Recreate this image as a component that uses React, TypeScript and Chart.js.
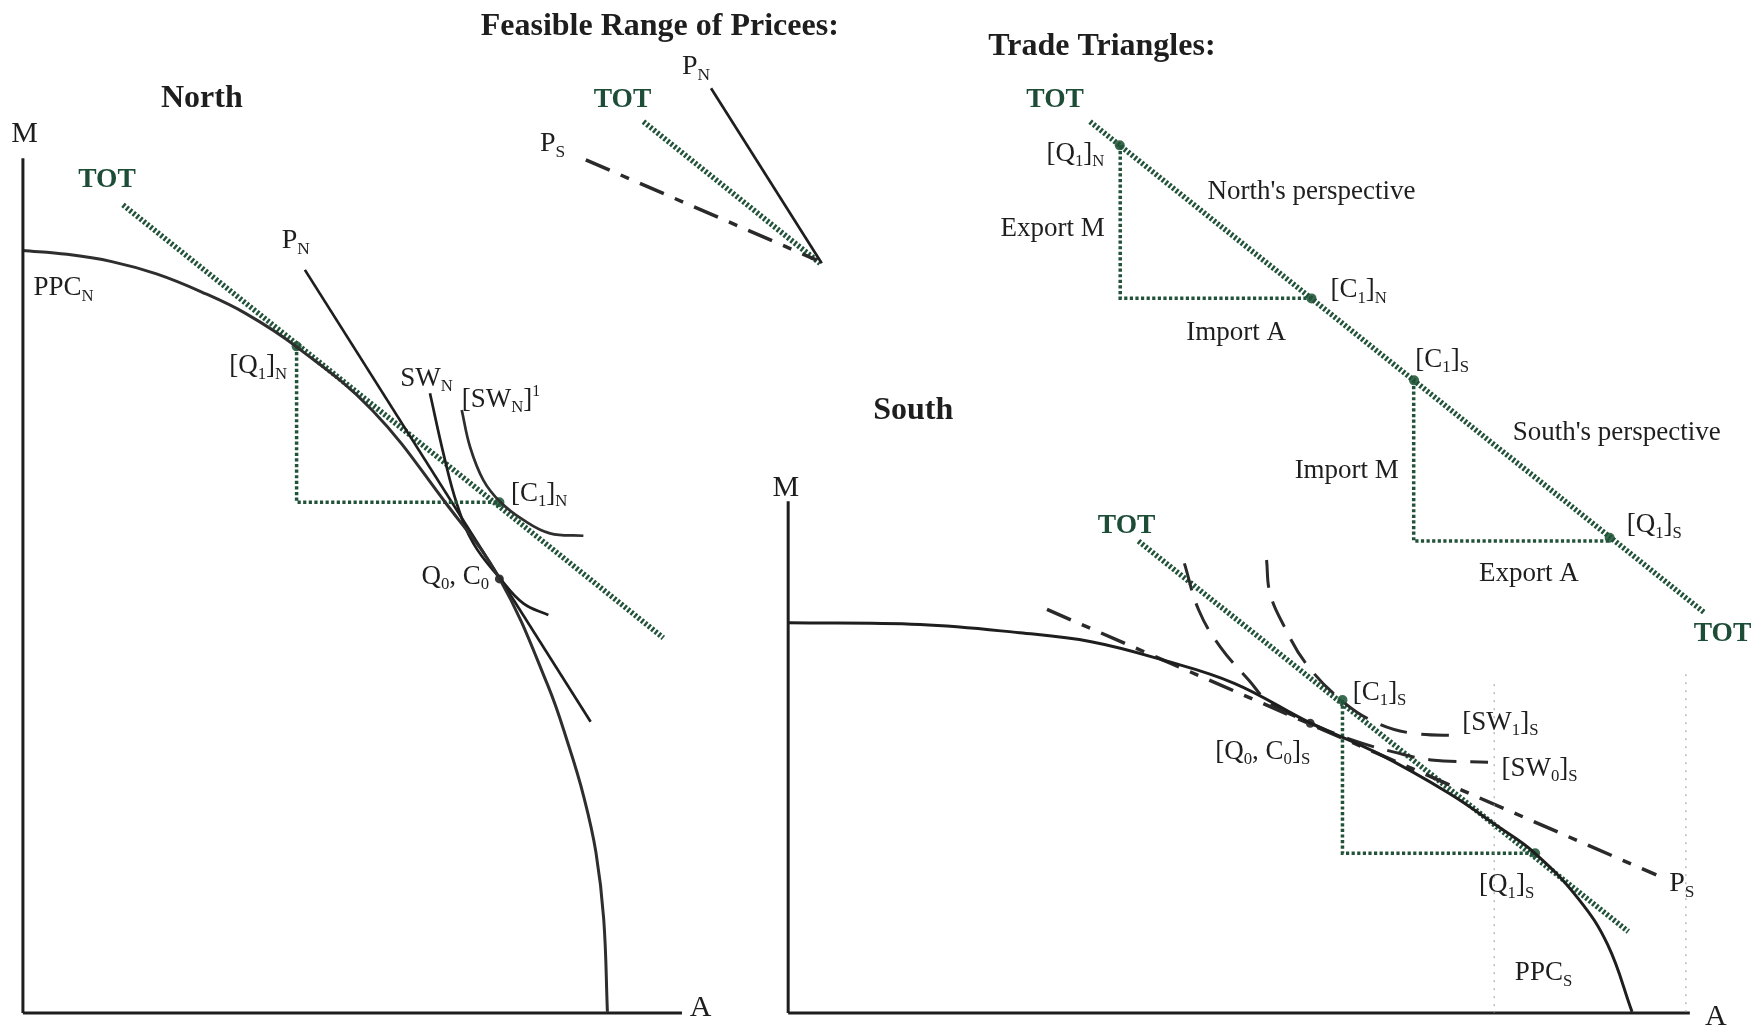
import React, { useEffect, useRef } from "react";
import { Chart, registerables } from "chart.js";
Chart.register(...registerables);

// ---- Data (figure coordinates: x 0..1568 to the right, y 0..919.5 downwards) ----
// North panel
const northAxisM = [[20.5, 141.5], [20.5, 906]];
const northAxisA = [[20.5, 906], [610, 906]];
const ppcNorth = [[20, 224], [60, 227.5], [100, 234], [140, 245], [180, 261], [220, 280.5], [265, 310], [333, 367], [398, 449], [447, 518], [490, 613], [509, 668], [522, 712], [533, 762], [540, 822], [543.3, 905]];
const priceNorth = [[272.7, 241.4], [528.3, 645.5]];
const totNorth = [[110, 183.3], [593.3, 570.5]];
const triNorth = [[265.3, 309.8], [265.3, 449.2], [446.7, 449.2]];
const swNorth = [[384.6, 351.8], [396.6, 405.5], [408.5, 450.2], [423.4, 486], [447.3, 517.3], [468.1, 539.7], [490.5, 550.1]];
const swNorth1 = [[413, 366.7], [420.4, 399.6], [432.3, 429.4], [447.3, 448.8], [468.1, 465.1], [492, 477.1], [521.8, 479.2]];
const greenPtsNorth = [[265.3, 309.8], [446.7, 449.2]];
const autarkyPtNorth = [[446.7, 517.8]];

// Feasible range of prices
const rangePN = [[636, 79], [735, 235.5]];
const rangeTOT = [[575.5, 108.8], [733.5, 235.5]];
const rangePS = [[524, 143], [730.5, 232.6]];

// Trade triangles
const triTOT = [[975, 108.8], [1524.8, 548.2]];
const triNorthPersp = [[1002, 130], [1002, 266.7], [1173, 266.7]];
const triSouthPersp = [[1264.5, 340.2], [1264.5, 484], [1439.8, 484]];
const triPts = [[1001.6, 130], [1173.1, 266.9], [1264.8, 340.2], [1439.8, 481]];

// South panel
const southAxisM = [[705, 448.4], [705, 906]];
const southAxisA = [[705, 906], [1511.5, 906]];
const ppcSouth = [[705, 557], [823, 558.6], [912, 566], [976, 574], [1040, 590.3], [1104, 611.2], [1172.8, 647], [1232, 673.7], [1296, 709.5], [1338, 738], [1373, 763.2], [1411.5, 803.5], [1438, 845], [1459.8, 905]];
const totSouth = [[1018.3, 484.1], [1456.5, 833.2]];
const triSouth = [[1200.8, 626.1], [1200.8, 763.2], [1373.1, 763.2]];
const priceSouth = [[936.5, 545.1], [1481.5, 782.6]];
const sw0South = [[1059.4, 503.9], [1072.2, 545.6], [1091.3, 578.4], [1116.9, 608.2], [1136, 629], [1172.8, 647], [1210, 662], [1248, 673], [1280, 679.7], [1331, 681.8]];
const sw1South = [[1132.9, 500.9], [1136, 530.7], [1148.8, 560.5], [1168, 593.3], [1200, 626.5], [1231.9, 646.9], [1263.8, 655.9], [1307, 658]];
const guide1 = [[1336.5, 612], [1336.5, 906]];
const guide2 = [[1508, 603], [1508, 906]];
const greenPtsSouth = [[1200.8, 626.1], [1373.1, 763.2]];
const autarkyPtSouth = [[1172, 647]];

// Text labels: [text, left x, centre y, kind]
const labels: [string, number, number, string][] = [
  ["Feasible Range of Pricees:", 430, 22, "t"],
  ["Trade Triangles:", 884, 40, "t"],
  ["North", 144, 86, "t"],
  ["South", 781, 365, "t"],
  ["M", 10, 118, "a"],
  ["A", 617, 900, "a"],
  ["M", 691, 435, "a"],
  ["A", 1525, 908, "a"],
  ["TOT", 70, 159, "g"],
  ["TOT", 531, 88, "g"],
  ["TOT", 918, 88, "g"],
  ["TOT", 1515, 565, "g"],
  ["TOT", 982, 469, "g"],
  ["P_N", 252, 214, "p"],
  ["P_N", 610, 58, "p"],
  ["P_S", 483, 127, "p"],
  ["P_S", 1493, 789, "p"],
  ["PPC_N", 30, 256, "l"],
  ["PPC_S", 1355, 869, "l"],
  ["[Q_1]_N", 205, 326, "l"],
  ["SW_N", 358, 337, "l"],
  ["[SW_N]^1", 413, 356, "l"],
  ["[C_1]_N", 457, 440, "l"],
  ["Q_0, C_0", 377, 514, "l"],
  ["[Q_1]_N", 936, 136, "l"],
  ["Export M", 895, 203, "l"],
  ["North's perspective", 1080, 170, "l"],
  ["[C_1]_N", 1190, 258, "l"],
  ["Import A", 1061, 296, "l"],
  ["[C_1]_S", 1266, 320, "l"],
  ["South's perspective", 1353, 386, "l"],
  ["Import M", 1158, 420, "l"],
  ["[Q_1]_S", 1455, 468, "l"],
  ["Export A", 1323, 512, "l"],
  ["[C_1]_S", 1210, 618, "l"],
  ["[SW_1]_S", 1308, 645, "l"],
  ["[Q_0, C_0]_S", 1087, 671, "l"],
  ["[SW_0]_S", 1343, 686, "l"],
  ["[Q_1]_S", 1323, 790, "l"],
];

// ---- Styling ----
const INK = "#1e1e1e";
const CURVE = "#2e2e2e";
const GREEN = "#22533a";
const GREEN_PT = "#3a6b4f";
const TOT_TEXT = "#1d4c37";
const FONT = "'Liberation Serif', 'DejaVu Serif', serif";

const pts = (a: number[][]) => a.map(([x, y]) => ({ x, y }));

function line(data: number[][], color: string, width: number, dash: number[] = [], curved = false) {
  return {
    data: pts(data),
    showLine: true,
    borderColor: color,
    borderWidth: width,
    borderDash: dash,
    borderCapStyle: "butt",
    pointRadius: 0,
    pointHoverRadius: 0,
    tension: curved ? 0.4 : 0,
    fill: false,
    clip: false,
  } as any;
}
function dots(data: number[][], color: string, r: number) {
  return {
    data: pts(data),
    showLine: false,
    pointRadius: r,
    pointHoverRadius: r,
    pointBackgroundColor: color,
    pointBorderWidth: 0,
    clip: false,
  } as any;
}

const TOT_DASH = [2.4, 2.0];
const TRI_DASH = [3.2, 2.4];
const DASH_DOT = [26, 12, 9, 12];
const DASH = [28, 14];

function parseRich(s: string) {
  const parts: { t: string; mode: number }[] = [];
  let buf = "";
  let i = 0;
  while (i < s.length) {
    const c = s[i];
    if (c === "_" || c === "^") {
      if (buf) {
        parts.push({ t: buf, mode: 0 });
        buf = "";
      }
      const mode = c === "_" ? 1 : 2;
      let t = "";
      if (s[i + 1] === "{") {
        const j = s.indexOf("}", i + 2);
        t = s.slice(i + 2, j);
        i = j + 1;
      } else {
        t = s[i + 1];
        i += 2;
      }
      parts.push({ t, mode });
    } else {
      buf += c;
      i++;
    }
  }
  if (buf) parts.push({ t: buf, mode: 0 });
  return parts;
}

const labelPlugin = {
  id: "richLabels",
  afterDatasetsDraw(chart: any) {
    const { ctx, scales } = chart;
    const xs = scales.x;
    const ys = scales.y;
    ctx.save();
    ctx.textBaseline = "alphabetic";
    ctx.textAlign = "left";
    for (const [text, lx, ly, kind] of labels) {
      let size = 27;
      let weight = "normal";
      let color = INK;
      if (kind === "t") { size = 32; weight = "bold"; }
      else if (kind === "g") { size = 27.5; weight = "bold"; color = TOT_TEXT; }
      else if (kind === "a") { size = 30; }
      else if (kind === "p") { size = 28; }
      let x = xs.getPixelForValue(lx);
      const base = ys.getPixelForValue(ly) + size * 0.33;
      ctx.fillStyle = color;
      for (const part of parseRich(text)) {
        let s = size;
        let dy = 0;
        if (part.mode === 1) { s = size * 0.62; dy = size * 0.2; }
        else if (part.mode === 2) { s = size * 0.58; dy = -size * 0.42; }
        ctx.font = `${weight} ${s}px ${FONT}`;
        ctx.fillText(part.t, x, base + dy);
        x += ctx.measureText(part.t).width;
      }
    }
    ctx.restore();
  },
};

export default function App() {
  const ref = useRef<HTMLCanvasElement>(null);
  useEffect(() => {
    document.body.style.margin = "0";
    const datasets = [
      // North panel
      line(northAxisM, INK, 3),
      line(northAxisA, INK, 3),
      line(ppcNorth, CURVE, 3, [], true),
      line(triNorth, GREEN, 3.5, TRI_DASH),
      line(priceNorth, INK, 2.7),
      line(swNorth, INK, 2.7, [], true),
      line(swNorth1, CURVE, 2.7, [], true),
      line(totNorth, GREEN, 5.5, TOT_DASH),
      // Feasible range
      line(rangePN, INK, 2.7),
      line(rangePS, "#2a2a2a", 3.5, DASH_DOT),
      line(rangeTOT, GREEN, 5.5, TOT_DASH),
      // Trade triangles
      line(triNorthPersp, GREEN, 3.5, TRI_DASH),
      line(triSouthPersp, GREEN, 3.5, TRI_DASH),
      line(triTOT, GREEN, 5.5, TOT_DASH),
      // South panel
      line(guide1, "#9a9a9a", 1, [2, 6]),
      line(guide2, "#9a9a9a", 1, [2, 6]),
      line(southAxisM, INK, 3),
      line(southAxisA, INK, 3),
      line(ppcSouth, INK, 3, [], true),
      line(triSouth, GREEN, 3.5, TRI_DASH),
      line(priceSouth, "#2a2a2a", 3.5, DASH_DOT),
      line(sw0South, "#2a2a2a", 3, DASH, true),
      line(sw1South, "#2a2a2a", 3, DASH, true),
      line(totSouth, GREEN, 5.5, TOT_DASH),
      // Points
      dots(greenPtsNorth, GREEN_PT, 5),
      dots(autarkyPtNorth, "#3a3a3a", 4.5),
      dots(triPts, GREEN_PT, 5),
      dots(greenPtsSouth, GREEN_PT, 5),
      dots(autarkyPtSouth, "#3a3a3a", 4.5),
    ];
    const chart = new Chart(ref.current as HTMLCanvasElement, {
      type: "scatter",
      data: { datasets },
      options: {
        animation: false,
        responsive: true,
        maintainAspectRatio: false,
        events: [],
        layout: { padding: 0, autoPadding: false },
        plugins: { legend: { display: false }, tooltip: { enabled: false } },
        scales: {
          x: { type: "linear", min: 0, max: 1568, display: false },
          y: { type: "linear", min: 0, max: 919.5, reverse: true, display: false },
        },
      },
      plugins: [labelPlugin],
    } as any);
    return () => chart.destroy();
  }, []);
  return (
    <div style={{ width: 1753, height: 1028, position: "relative", background: "#ffffff" }}>
      <canvas ref={ref} />
    </div>
  );
}
